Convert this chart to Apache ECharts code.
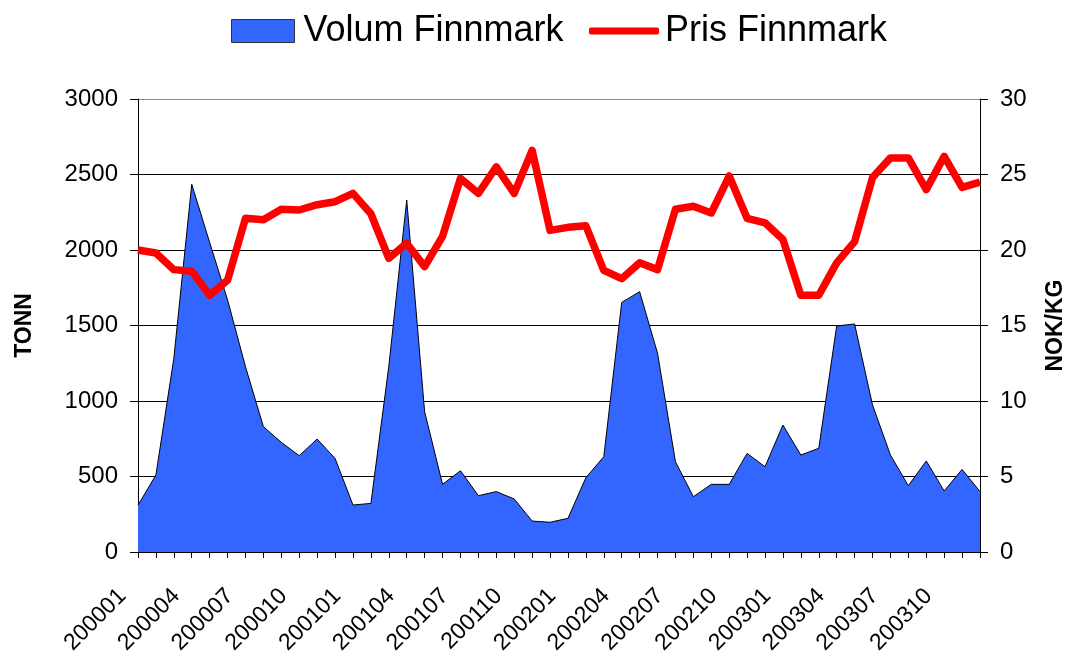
<!DOCTYPE html>
<html>
<head>
<meta charset="utf-8">
<title>Volum og pris Finnmark</title>
<script src="https://cdn.jsdelivr.net/npm/echarts@6/dist/echarts.min.js"></script>
<style>
  html, body { margin: 0; padding: 0; background: #fff; overflow: hidden; }
  #chart { width: 1068px; height: 657px; }
</style>
</head>
<body>
<div id="chart"></div>
<script>
// maaneder 2000-2003
const months = [
  '200001','200002','200003','200004','200005','200006','200007','200008','200009','200010','200011','200012',
  '200101','200102','200103','200104','200105','200106','200107','200108','200109','200110','200111','200112',
  '200201','200202','200203','200204','200205','200206','200207','200208','200209','200210','200211','200212',
  '200301','200302','200303','200304','200305','200306','200307','200308','200309','200310','200311','200312'
];
// volum i tonn (venstre akse)
const volumFinnmark = [
  310, 510, 1283, 2435, 2050, 1670, 1227, 830, 726, 638, 748, 620,
  311, 322, 1230, 2331, 929, 448, 538, 373, 400, 351, 205, 197,
  223, 492, 631, 1653, 1724, 1316, 598, 366, 448, 448, 653, 565,
  841, 642, 687, 1497, 1510, 974, 642, 439, 603, 404, 547, 400
];
// pris NOK/KG (hoyre akse)
const prisFinnmark = [
  20.0, 19.8, 18.7, 18.6, 17.0, 18.0, 22.1, 22.0, 22.7, 22.65, 23.0, 23.2,
  23.75, 22.4, 19.45, 20.45, 18.9, 20.9, 24.75, 23.75, 25.5, 23.75, 26.6, 21.3,
  21.5, 21.6, 18.65, 18.1, 19.15, 18.7, 22.7, 22.9, 22.45, 24.9, 22.1, 21.8,
  20.7, 17.0, 17.0, 19.15, 20.55, 24.8, 26.1, 26.1, 24.0, 26.2, 24.15, 24.5
];

const font = 'Arial, "Liberation Sans", sans-serif';
const chart = echarts.init(document.getElementById('chart'));

const option = {
  animation: false,
  textStyle: { fontFamily: font, color: '#000' },
  legend: [
    {
      data: [{ name: 'Volum Finnmark', icon: 'rect' }],
      left: 226, top: 8,
      itemWidth: 63, itemHeight: 23, itemGap: 0,
      itemStyle: { color: '#3366FF', borderColor: '#333', borderWidth: 1 },
      textStyle: { fontSize: 36, fontFamily: font, color: '#000', padding: [0, 0, 0, 4] }
    },
    {
      data: [{ name: 'Pris Finnmark', icon: 'roundRect' }],
      left: 584, top: 8,
      itemWidth: 70, itemHeight: 7, itemGap: 0,
      itemStyle: { color: '#FF0000', borderWidth: 0 },
      textStyle: { fontSize: 36, fontFamily: font, color: '#000', padding: [0, 0, 0, 1] }
    }
  ],
  grid: { left: 138, right: 88, top: 99, bottom: 105, outerBoundsMode: 'none' },
  xAxis: {
    type: 'category',
    data: months,
    boundaryGap: false,
    axisLine: { lineStyle: { color: '#000', width: 1 } },
    axisTick: { interval: 0, length: 6, lineStyle: { color: '#000' } },
    axisLabel: {
      interval: 2, rotate: 45, fontSize: 23, color: '#000',
      margin: 25, padding: [0, 22, 0, 0]
    }
  },
  yAxis: [
    {
      type: 'value',
      min: 0, max: 3000, interval: 500,
      name: 'TONN',
      nameLocation: 'middle',
      nameRotate: 90,
      nameGap: 102,
      nameTextStyle: { fontSize: 23, fontWeight: 'bold', color: '#000' },
      axisLine: { show: true, lineStyle: { color: '#000' } },
      axisTick: { show: true, length: 8, lineStyle: { color: '#000' } },
      axisLabel: { fontSize: 24, color: '#000', margin: 20, formatter: v => String(v) },
      splitLine: {
        lineStyle: { color: ['#000', '#000', '#000', '#000', '#000', '#000', '#888'], width: 1 }
      }
    },
    {
      type: 'value',
      min: 0, max: 30, interval: 5,
      name: 'NOK/KG',
      nameLocation: 'middle',
      nameRotate: 90,
      nameGap: 64,
      nameTextStyle: { fontSize: 23, fontWeight: 'bold', color: '#000' },
      axisLine: { show: true, lineStyle: { color: '#000' } },
      axisTick: { show: true, length: 8, lineStyle: { color: '#000' } },
      axisLabel: { fontSize: 24, color: '#000', margin: 20, formatter: v => String(v) },
      splitLine: { show: false }
    }
  ],
  series: [
    {
      name: 'Volum Finnmark',
      type: 'line',
      data: volumFinnmark,
      yAxisIndex: 0,
      symbol: 'none',
      color: '#3366FF',
      lineStyle: { color: '#000', width: 1 },
      areaStyle: { color: '#3366FF', opacity: 1 },
      z: 2
    },
    {
      name: 'Pris Finnmark',
      type: 'line',
      data: prisFinnmark,
      yAxisIndex: 1,
      symbol: 'none',
      color: '#FF0000',
      lineStyle: { color: '#FF0000', width: 7.5, join: 'round' },
      z: 3
    }
  ]
};
chart.setOption(option);
</script>
</body>
</html>
